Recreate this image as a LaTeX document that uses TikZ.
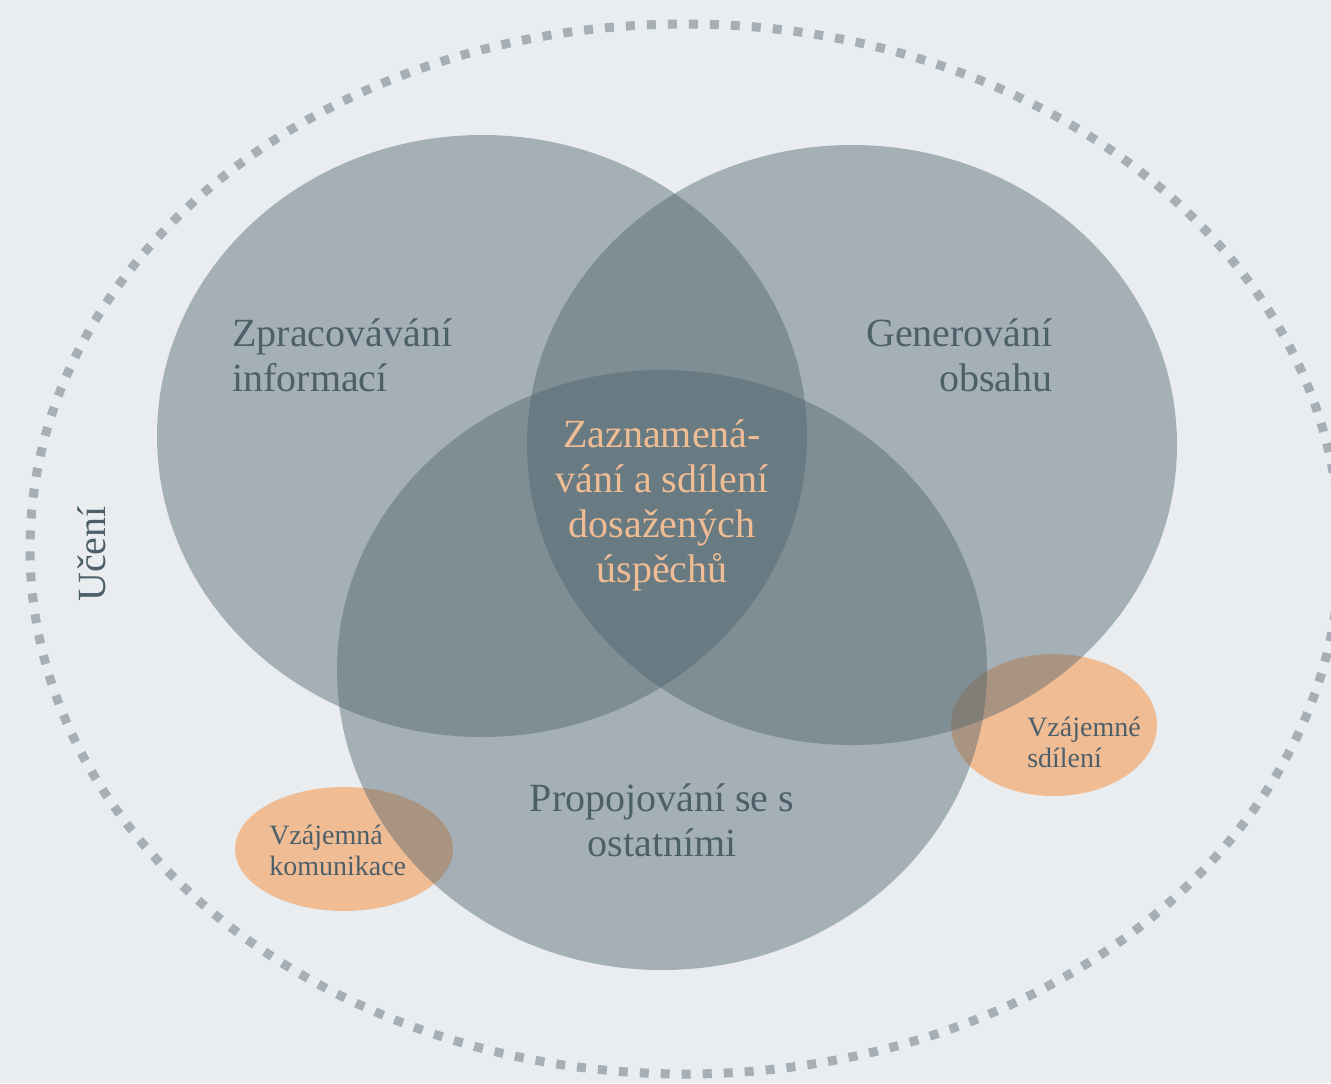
\documentclass[tikz,border=0pt]{standalone}
\usepackage{fontspec}
\setmainfont{Liberation Serif}
\usetikzlibrary{positioning}
\definecolor{bgcol}{RGB}{233,237,240}
\definecolor{ringcol}{RGB}{165,175,181}
\definecolor{venncol}{RGB}{79,99,108}
\definecolor{blobcol}{RGB}{240,188,148}
\definecolor{labelcol}{RGB}{77,96,106}

\begin{document}
\begin{tikzpicture}[x=0.75pt,y=-0.75pt]
  \tikzset{ring/.style = {draw=ringcol, line width=6.75pt, dash pattern=on 6.75pt off 9pt}}
  \tikzset{venn/.style = {fill=venncol, fill opacity=0.44}}
  \tikzset{blob/.style = {fill=blobcol}}
  \tikzset{biglabel/.style = {text=labelcol, inner sep=0pt, font=\fontsize{30}{33.75}\selectfont}}
  \tikzset{smalllabel/.style = {text=labelcol, inner sep=0pt, font=\fontsize{21}{23.25}\selectfont}}
  \tikzset{corelabel/.style = {text=blobcol, inner sep=0pt, align=center, font=\fontsize{30}{33.75}\selectfont}}

  % background and frame
  \fill[bgcol] (0,0) rectangle (1331,1083);
  \useasboundingbox (0,0) rectangle (1331,1083);
  \clip (0,0) rectangle (1331,1083);
  \draw[ring] (685,549) ellipse [x radius=655, y radius=525];

  % small blobs under the circles
  \fill[blob] (1054,725) ellipse [x radius=103, y radius=71];
  \fill[blob] (344,849) ellipse [x radius=109, y radius=62];

  % the three circles
  \fill[venn] (482,436) ellipse [x radius=325, y radius=301];
  \fill[venn] (852,445) ellipse [x radius=325, y radius=300];
  \fill[venn] (662,670) ellipse [x radius=325, y radius=300];

  % labels
  \node[biglabel, align=left, anchor=west] (ZI) at (232,355) {Zpracovávání\\informací};
  \node[biglabel, align=right, anchor=east] (GO) at (1053,355) {Generování\\obsahu};
  \node[biglabel, align=center] (PO) at (662,820) {Propojování se s\\ostatními};
  \node[corelabel] (ZS) at (662,505) {Zaznamená-\\vání a sdílení\\dosažených\\úspěchů};
  \node[smalllabel, align=left, anchor=west] (VS) at (1027,742) {Vzájemné\\sdílení};
  \node[smalllabel, align=left, anchor=west] (VK) at (269,850) {Vzájemná\\komunikace};
  \node[biglabel, rotate=90] (UC) at (92,554) {Učení};
\end{tikzpicture}
\end{document}
